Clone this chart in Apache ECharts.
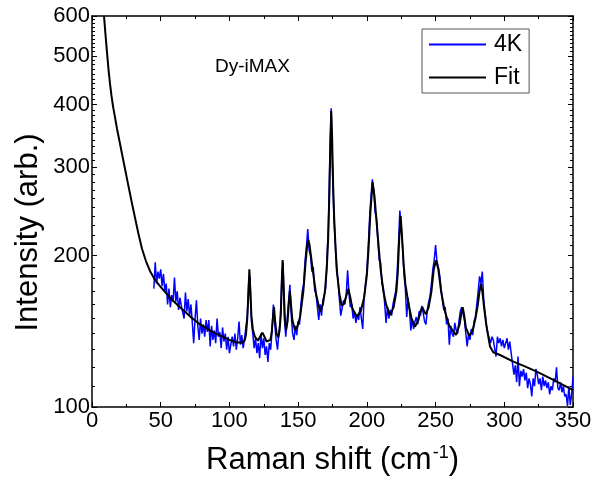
<!DOCTYPE html>
<html><head><meta charset="utf-8">
<script src="https://cdn.jsdelivr.net/npm/echarts@6/dist/echarts.min.js"></script>
<style>html,body{margin:0;padding:0;background:#fff}#c{width:603px;height:481px}</style>
</head><body><div id="c"></div>
<script>
// Measured spectrum (4K), one value per 1 cm-1 starting at 45 cm-1
const blueStartX = 45;
const blueStepX = 1;
const blueY = [
 172,194,176,186,180,188,174,184,170,176,160,172,158,167,162,181,
 162,170,156,165,159,160,150,169,155,164,152,160,147,134,150,163,145,136,150,140,
 146,138,149,141,149,132,145,136,142,134,150,138,141,131,144,135,140,130,138,128,
 127,138,132,140,130,137,148,133,139,131,137,
 136,152,176,182,148,140,131,137,128,
 134,125,140,131,137,127,132,123,134,130,
 142,160,146,136,130,141,148,178,194,150,
 138,149,162,175,152,140,136,145,139,148,
 146,160,170,176,195,208,226,205,200,186,
 190,171,168,158,149,160,152,163,167,172,
 198,228,310,393,295,238,214,186,180,164,
 152,151,163,160,168,187,168,158,160,150,
 155,147,153,149,158,150,143,165,176,186,
 208,238,262,284,270,244,238,214,196,194,
 176,173,160,147,158,150,156,152,160,165,
 170,184,210,246,228,208,184,172,151,165,
 156,142,150,143,148,151,146,155,152,159,
 154,148,146,156,162,166,176,188,196,210,
 195,190,183,172,163,156,158,146,150,133,
 145,140,138,147,142,140,148,155,158,153,
 149,140,132,140,136,143,139,148,151,160,
 170,182,176,186,164,154,146,140,137,134,
 138,136,135,126,138,134,137,132,136,131,
 134,137,130,135,128,122,116,121,112,126,
 110,118,115,119,113,117,109,114,111,105,
 114,110,119,116,111,114,108,115,110,113,
 109,112,106,110,108,114,112,120,109,108,
 112,107,110,105,106,100.5,110,101,106,115
];

// Fit curve
const fitX = [8.73,9.82,10.91,12.01,13.1,14.19,15.28,16.74,18.19,20.01,21.83,24.01,26.2,28.74,31.29,33.84,36.38,39.29,42.2,45.84,49.48,53.85,58.21,64.03,71.31,78.59,85.86,90,95,100,105,109,111,112,113,113.8,114.5,115.2,116,117,118.5,120.8,122.5,124,125.5,127,128.3,129.8,130.8,131.6,132.4,133.3,134.3,135.6,136.5,137.3,137.9,138.3,138.7,139.2,139.8,140.5,141.2,142.3,143.2,144,144.8,145.8,147.7,149.5,151.4,153.8,155.5,156.5,157.4,158.3,159.5,161,163,165.9,168,169.5,170.8,171.8,172.8,173.5,174.1,174.7,175.5,176.3,177.3,178.5,180,181.7,183.5,185.2,186.5,187.8,189.5,192.6,195.5,198,200,201.3,202.6,204.2,205.6,207,208.5,210,212,214,216.8,219.5,221.5,222.5,223.5,224.6,225.6,226.8,228,230,232.5,235,237.5,239,240.4,241.7,243,245,247,248.7,250.3,252,254,256.5,260,264.9,267.5,268.8,269.7,270.7,272,274.5,277,279,280.5,282,283,284,285.5,287,288.4,289.6,292,296.9,306.6,315,323.6,335,349,350];
const fitY = [600,551,508,470,440,416,397,377,358,338,319,298,278,257,238,221,206.5,195,186.5,179,174,168.5,163.5,158,151.5,146,142,140,138,136,134.5,134.3,135.5,139,150,168,188,170,152,143,138,135.5,138.5,140.6,138,135,133.9,136,141,150,158,148,140,137.6,142,152,168,185,196,182,163,148,142.3,148,160,170,160,149,142.3,145,151,170,195,209,215,210,198,184,168,155,160,170,188,215,270,340,388,345,275,235,205,183,168,159,161,167,172,166,157,151.3,155,165,183,208,245,280,262,235,210,188,170,160,152.4,158,170,185,215,240,218,192,176,162,150,144.5,149,155,158,155,153,158,170,188,196,188,170,156,145,139.1,146,154,158,153,144,138.5,142,150,158,170,176,170,156,145,138,132,128.5,126.9,123.1,120.5,117.6,113.5,108.4,108];

const xTicks = [0,50,100,150,200,250,300,350];
const yTicks = [100,200,300,400,500,600];
const yMinorTicks = [110,120,130,140,150,160,170,180,190,210,220,230,240,250,260,270,280,290,310,320,330,340,350,360,370,380,390,410,420,430,440,450,460,470,480,490,510,520,530,540,550,560,570,580,590];

const FONT = "'Liberation Sans', Arial, sans-serif";
const blueData = blueY.map((v, i) => [blueStartX + i * blueStepX, v]);
const fitData = fitX.map((x, i) => [x, fitY[i]]);
const log = v => Math.log10(v);
const yMinL = log(yTicks[0]), yMaxL = log(yTicks[yTicks.length - 1]);

function tickAxis(pos, values, len, showLabels, showLine) {
  return {
    type: 'value', position: pos, min: yMinL, max: yMaxL,
    axisLine: {show: showLine, onZero: false, lineStyle: {color: '#000', width: 1.5}},
    axisTick: {show: true, inside: true, length: len, customValues: values.map(log), lineStyle: {color: '#000', width: 1}},
    axisLabel: {show: showLabels, customValues: values.map(log), margin: 2, fontSize: 22, color: '#000', fontFamily: FONT,
      formatter: v => String(Math.round(Math.pow(10, v)))},
    splitLine: {show: false}
  };
}

const chart = echarts.init(document.getElementById('c'), null, {renderer: 'canvas'});
chart.setOption({
  animation: false,
  backgroundColor: '#fff',
  textStyle: {fontFamily: FONT},
  title: {text: 'Dy-iMAX', left: 215, top: 57, padding: 0,
    textStyle: {fontSize: 19, fontWeight: 'normal', color: '#000', fontFamily: FONT}},
  legend: {
    orient: 'vertical', left: 422, top: 29, padding: [4, 7, 4, 7], itemGap: 10,
    itemWidth: 57, itemHeight: 2, icon: 'rect', borderColor: '#555', borderWidth: 1,
    textStyle: {fontSize: 23, color: '#000', fontFamily: FONT, padding: [0, 0, 0, 3]},
    data: ['4K', 'Fit']
  },
  grid: {left: 92, right: 30, top: 16, bottom: 74, containLabel: false},
  xAxis: [
    {type: 'value', position: 'bottom', min: xTicks[0], max: xTicks[xTicks.length - 1], interval: 50,
     name: '{a|Raman shift (cm}{b|-1}{a|)}', nameLocation: 'middle', nameGap: 36,
     nameTextStyle: {rich: {a: {fontSize: 31, color: '#000', fontFamily: FONT, lineHeight: 34},
                           b: {fontSize: 18, color: '#000', fontFamily: FONT, lineHeight: 34, padding: [0, 0, 14, 1]}}},
     axisLine: {onZero: false, lineStyle: {color: '#000', width: 1.5}},
     axisTick: {inside: true, length: 5, lineStyle: {color: '#000'}},
     minorTick: {show: true, splitNumber: 2, length: 3, lineStyle: {color: '#000'}},
     axisLabel: {fontSize: 22, color: '#000', margin: 3, fontFamily: FONT},
     splitLine: {show: false}},
    {type: 'value', position: 'top', min: xTicks[0], max: xTicks[xTicks.length - 1], interval: 50,
     axisLine: {onZero: false, lineStyle: {color: '#000', width: 1.5}},
     axisTick: {inside: true, length: 5, lineStyle: {color: '#000'}},
     minorTick: {show: true, splitNumber: 2, length: 3, lineStyle: {color: '#000'}},
     axisLabel: {show: false}, splitLine: {show: false}}
  ],
  yAxis: [
    {type: 'log', logBase: 10, position: 'left', min: yTicks[0], max: yTicks[yTicks.length - 1],
     name: 'Intensity (arb.)', nameLocation: 'middle', nameGap: 48, nameRotate: 90,
     nameTextStyle: {fontSize: 31, color: '#000', fontFamily: FONT, padding: [0, 42, 0, 0]},
     axisLine: {show: true, onZero: false, lineStyle: {color: '#000', width: 1.5}},
     axisTick: {show: false}, axisLabel: {show: false}, splitLine: {show: false}, minorTick: {show: false}},
    tickAxis('left', yTicks, 5, true, false),
    tickAxis('left', yMinorTicks, 3, false, false),
    tickAxis('right', yTicks, 5, false, true),
    tickAxis('right', yMinorTicks, 3, false, false)
  ],
  series: [
    {name: '4K', type: 'line', data: blueData, xAxisIndex: 0, yAxisIndex: 0, showSymbol: false, symbol: 'none',
     lineStyle: {color: '#0000ff', width: 1.5}, itemStyle: {color: '#0000ff'}, z: 2},
    {name: 'Fit', type: 'line', data: fitData, xAxisIndex: 0, yAxisIndex: 0, showSymbol: false, symbol: 'none',
     lineStyle: {color: '#000', width: 2}, itemStyle: {color: '#000'}, z: 3}
  ]
});
</script>
</body></html>
